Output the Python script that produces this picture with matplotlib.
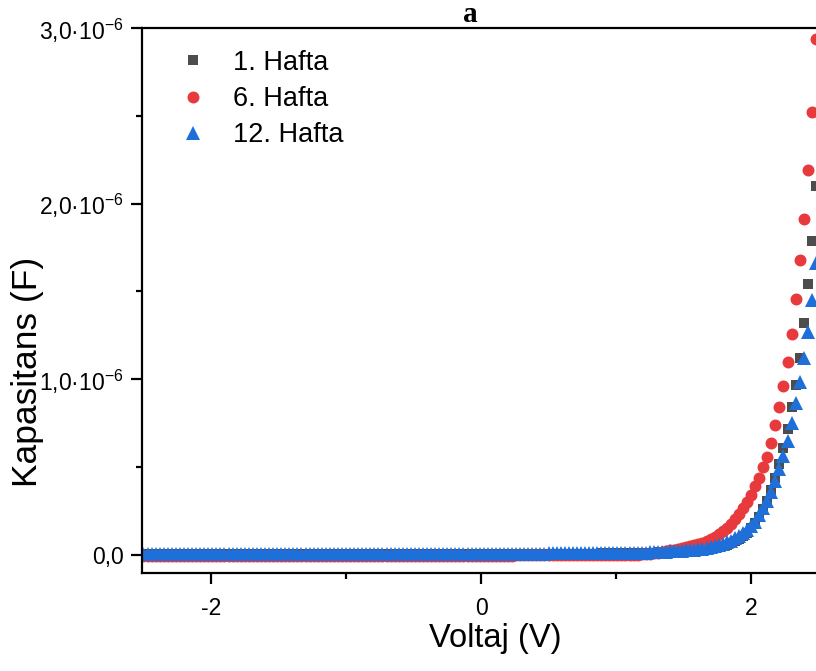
# -*- coding: utf-8 -*-
"""
Kapasitans - Voltaj (C-V) egrisi, 1. / 6. / 12. Hafta
"""

# Import Libraries -----------------------------------------------------------
import matplotlib
matplotlib.use('Agg')
import matplotlib.pyplot as plt
from matplotlib.ticker import FixedLocator, MultipleLocator, FuncFormatter
import numpy as np

plt.rcParams['font.family'] = ['Liberation Sans', 'DejaVu Sans']
plt.rcParams['mathtext.fontset'] = 'custom'
plt.rcParams['mathtext.rm'] = 'Liberation Sans'
plt.rcParams['mathtext.it'] = 'Liberation Sans:italic'

# Data ------------------------------------------------------------------------
# voltage sweep set points, -2.50 V ... 2.48 V in 0.03 V steps (167 points)
voltaj = np.round(np.arange(-2.50, 2.481, 0.03), 2)

# capacitance values, in units of 1e-6 F
hafta_1 = [
    0.005, 0.005, 0.005, 0.005, 0.005, 0.005, 0.005, 0.005, 0.005, 0.005,
    0.005, 0.005, 0.005, 0.005, 0.005, 0.005, 0.005, 0.005, 0.005, 0.005,
    0.005, 0.005, 0.005, 0.005, 0.005, 0.005, 0.005, 0.005, 0.005, 0.005,
    0.005, 0.005, 0.005, 0.005, 0.005, 0.005, 0.005, 0.005, 0.005, 0.005,
    0.005, 0.005, 0.005, 0.005, 0.005, 0.005, 0.005, 0.005, 0.005, 0.005,
    0.005, 0.005, 0.005, 0.005, 0.005, 0.005, 0.005, 0.005, 0.005, 0.005,
    0.005, 0.005, 0.005, 0.005, 0.005, 0.005, 0.005, 0.005, 0.005, 0.005,
    0.005, 0.005, 0.005, 0.005, 0.005, 0.006, 0.006, 0.006, 0.006, 0.006,
    0.006, 0.006, 0.006, 0.006, 0.006, 0.006, 0.006, 0.006, 0.006, 0.006,
    0.006, 0.006, 0.006, 0.006, 0.006, 0.007, 0.007, 0.007, 0.007, 0.007,
    0.007, 0.007, 0.007, 0.007, 0.007, 0.007, 0.008, 0.008, 0.008, 0.008,
    0.008, 0.008, 0.008, 0.009, 0.009, 0.009, 0.009, 0.009, 0.010, 0.010,
    0.010, 0.010, 0.011, 0.011, 0.012, 0.013, 0.014, 0.015, 0.016, 0.017,
    0.018, 0.019, 0.020, 0.021, 0.022, 0.023, 0.025, 0.027, 0.030, 0.033,
    0.037, 0.041, 0.046, 0.052, 0.059, 0.068, 0.079, 0.092, 0.108, 0.128,
    0.152, 0.180, 0.215, 0.260, 0.310, 0.370, 0.440, 0.520, 0.610, 0.720,
    0.840, 0.970, 1.120, 1.320, 1.540, 1.790, 2.100,
]
hafta_6 = [
    -0.005, -0.005, -0.005, -0.005, -0.005, -0.005, -0.005, -0.005, -0.005, -0.005,
    -0.005, -0.005, -0.005, -0.005, -0.005, -0.005, -0.005, -0.005, -0.005, -0.005,
    -0.005, -0.005, -0.005, -0.005, -0.005, -0.005, -0.005, -0.005, -0.005, -0.005,
    -0.005, -0.005, -0.005, -0.005, -0.005, -0.005, -0.005, -0.005, -0.005, -0.005,
    -0.004, -0.004, -0.004, -0.004, -0.004, -0.004, -0.004, -0.004, -0.004, -0.004,
    -0.004, -0.004, -0.004, -0.004, -0.004, -0.004, -0.004, -0.004, -0.004, -0.004,
    -0.004, -0.004, -0.004, -0.004, -0.004, -0.004, -0.004, -0.004, -0.004, -0.004,
    -0.003, -0.003, -0.003, -0.003, -0.003, -0.003, -0.003, -0.003, -0.003, -0.003,
    -0.003, -0.003, -0.003, -0.003, -0.003, -0.003, -0.003, -0.003, -0.003, -0.003,
    -0.003, -0.003, -0.002, -0.002, -0.002, -0.002, -0.002, -0.002, -0.002, -0.002,
    -0.002, -0.002, -0.002, -0.002, -0.002, -0.002, -0.002, -0.002, -0.002, -0.002,
    -0.001, -0.001, -0.001, -0.001, -0.001, -0.001, -0.001, 0.000, 0.000, 0.000,
    -0.001, 0.000, 0.002, 0.004, 0.006, 0.008, 0.011, 0.014, 0.018, 0.022,
    0.026, 0.030, 0.034, 0.038, 0.043, 0.049, 0.055, 0.062, 0.071, 0.081,
    0.092, 0.105, 0.120, 0.137, 0.156, 0.178, 0.203, 0.232, 0.265, 0.300,
    0.340, 0.390, 0.440, 0.500, 0.560, 0.640, 0.740, 0.840, 0.960, 1.100,
    1.260, 1.460, 1.680, 1.910, 2.190, 2.520, 2.940,
]
hafta_12 = [
    0.006, 0.006, 0.006, 0.006, 0.006, 0.006, 0.006, 0.006, 0.006, 0.006,
    0.006, 0.006, 0.006, 0.006, 0.006, 0.006, 0.006, 0.006, 0.006, 0.006,
    0.006, 0.006, 0.006, 0.006, 0.006, 0.006, 0.006, 0.006, 0.006, 0.006,
    0.006, 0.006, 0.006, 0.006, 0.006, 0.006, 0.006, 0.006, 0.006, 0.006,
    0.006, 0.006, 0.006, 0.006, 0.006, 0.006, 0.006, 0.006, 0.006, 0.006,
    0.006, 0.006, 0.006, 0.006, 0.006, 0.006, 0.006, 0.006, 0.006, 0.006,
    0.006, 0.006, 0.006, 0.006, 0.006, 0.006, 0.006, 0.006, 0.006, 0.006,
    0.007, 0.007, 0.007, 0.007, 0.007, 0.007, 0.007, 0.007, 0.007, 0.007,
    0.007, 0.007, 0.007, 0.007, 0.007, 0.007, 0.007, 0.007, 0.007, 0.007,
    0.008, 0.008, 0.008, 0.008, 0.008, 0.008, 0.008, 0.008, 0.008, 0.008,
    0.009, 0.009, 0.009, 0.009, 0.009, 0.009, 0.009, 0.009, 0.010, 0.010,
    0.010, 0.010, 0.010, 0.010, 0.010, 0.011, 0.011, 0.011, 0.011, 0.011,
    0.012, 0.012, 0.013, 0.013, 0.014, 0.015, 0.016, 0.017, 0.018, 0.019,
    0.020, 0.021, 0.022, 0.024, 0.026, 0.028, 0.030, 0.033, 0.036, 0.040,
    0.045, 0.050, 0.056, 0.063, 0.072, 0.082, 0.094, 0.108, 0.124, 0.143,
    0.165, 0.190, 0.225, 0.265, 0.310, 0.360, 0.420, 0.490, 0.565, 0.650,
    0.750, 0.865, 0.985, 1.120, 1.270, 1.450, 1.660,
]
seri_adlari = ['1. Hafta', '6. Hafta', '12. Hafta']
seriler = [hafta_1, hafta_6, hafta_12]

# Build Plot ------------------------------------------------------------------
W, H = 816, 671
fig = plt.figure(figsize=(W / 100, H / 100), dpi=100)
ax = fig.add_axes([142 / W, (H - 573) / H, (W - 142) / W, (573 - 28) / H])

stiller = [
    dict(marker='s', color='#4d4d4d', markersize=7.2),
    dict(marker='o', color='#e83a3c', markersize=8.6),
    dict(marker='^', color='#1f6fdb', markersize=9.8),
]
for ad, seri, st in zip(seri_adlari, seriler, stiller):
    ax.plot(voltaj, np.array(seri) * 1e-6, linestyle='none', label=ad,
            markeredgewidth=0, **st)

ax.set_xlim(-2.511, 2.481)
ax.set_ylim(-0.1025e-6, 3.0e-6)

ax.xaxis.set_major_locator(FixedLocator([-2, 0, 2]))
ax.xaxis.set_minor_locator(FixedLocator([-1, 1]))
ax.yaxis.set_major_locator(MultipleLocator(1e-6))
ax.yaxis.set_minor_locator(MultipleLocator(0.5e-6))


def y_etiket(v, pos):
    if abs(v) < 1e-12:
        return '0,0'
    m = v / 1e-6
    return ('%.1f' % m).replace('.', ',') + '\u00b710$^{\\mathrm{-6}}$'


ax.yaxis.set_major_formatter(FuncFormatter(y_etiket))
ax.xaxis.set_major_formatter(FuncFormatter(lambda v, p: '%d' % v if v >= 0 else '-%d' % -v))

ax.tick_params(which='major', direction='out', length=8, width=1.6,
               labelsize=16.5, top=False, right=False)
ax.tick_params(which='minor', direction='out', length=4.5, width=1.6,
               top=False, right=False)
ax.tick_params(axis='x', pad=9)
ax.tick_params(axis='y', pad=5)
for s in ['left', 'bottom', 'top']:
    ax.spines[s].set_linewidth(1.6)
ax.spines['right'].set_visible(False)

fig.text(495 / W, 1 - 638 / H, 'Voltaj (V)', fontsize=23.5, ha='center', va='center')
fig.text(28 / W, 1 - 372 / H, 'Kapasitans (F)', fontsize=25.5, ha='center',
         va='center', rotation=90)
fig.text(470 / W, 1 - 15 / H, 'a', fontsize=21, fontweight='bold',
         family='Liberation Serif', ha='center', va='center')

ax.legend(loc='upper left', bbox_to_anchor=(0.036, 0.98), frameon=False,
          fontsize=19.5, handletextpad=0.85, labelspacing=0.38,
          handlelength=1.2, borderaxespad=0)

# Save the figure
plt.savefig('out.png', dpi=100)
